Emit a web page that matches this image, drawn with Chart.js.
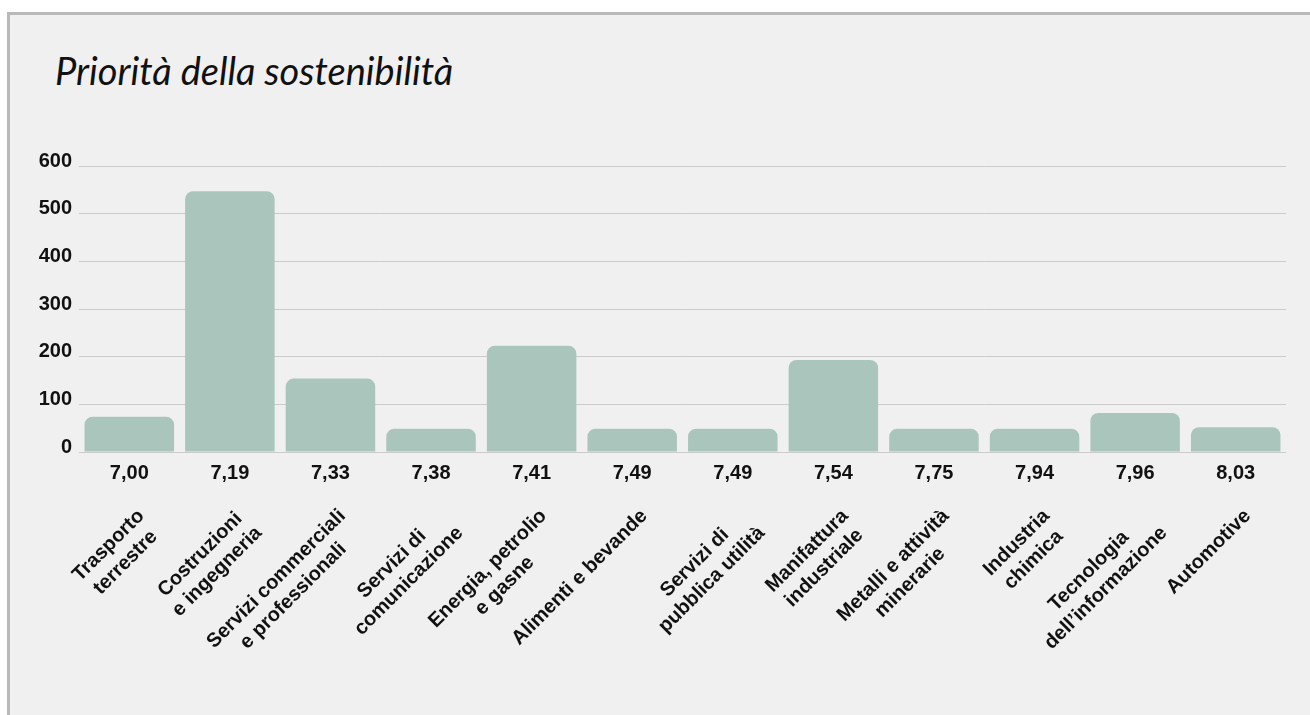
<!DOCTYPE html>
<html>
<head>
<meta charset="utf-8">
<script src="https://cdn.jsdelivr.net/npm/chart.js@4.4.1/dist/chart.umd.min.js"></script>
<style>
  html, body { margin: 0; padding: 0; background: #fff; }
  body { width: 1310px; height: 715px; position: relative; overflow: hidden; }
  #panel {
    position: absolute; left: 7px; top: 12px; width: 1320px; height: 720px;
    background: #f0f0f0; border-left: 3px solid #b9b9b9; border-top: 3px solid #b9b9b9;
  }
  #title {
    position: absolute; left: 55px; top: 51px; margin: 0;
    font-family: Lato, sans-serif; font-style: italic; font-weight: 400;
    font-size: 38px; line-height: 38px; color: #111; white-space: nowrap;
  }
  #wrap { position: absolute; left: 0; top: 0; width: 1310px; height: 715px; }
</style>
</head>
<body>
<div id="panel"></div>
<h1 id="title">Priorità della sostenibilità</h1>
<div id="wrap"><canvas id="chart"></canvas></div>
<script>
  // dati
  const categories = [
    ['Trasporto', 'terrestre'],
    ['Costruzioni', 'e ingegneria'],
    ['Servizi commerciali', 'e professionali'],
    ['Servizi di', 'comunicazione'],
    ['Energia, petrolio', 'e gasne'],
    ['Alimenti e bevande'],
    ['Servizi di', 'pubblica utilità'],
    ['Manifattura', 'industriale'],
    ['Metalli e attività', 'minerarie'],
    ['Industria', 'chimica'],
    ['Tecnologia', 'dell’informazione'],
    ['Automotive']
  ];
  const scores = ['7,00', '7,19', '7,33', '7,38', '7,41', '7,49', '7,49', '7,54', '7,75', '7,94', '7,96', '8,03'];
  const values = [74, 547, 154, 49, 223, 49, 49, 193, 49, 49, 82, 52];
  const yTicks = [0, 100, 200, 300, 400, 500, 600];

  const labelFont = 'bold 20px "Liberation Sans", Arial, sans-serif';

  // etichette delle categorie ruotate, righe centrate, ancorate in alto a destra
  const categoryLabels = {
    id: 'categoryLabels',
    afterDraw(chart) {
      const ctx = chart.ctx;
      const xScale = chart.scales.x;
      ctx.save();
      ctx.font = labelFont;
      ctx.fillStyle = '#111';
      ctx.textBaseline = 'top';
      ctx.textAlign = 'center';
      categories.forEach((lines, i) => {
        const x = xScale.getPixelForValue(i) + 7;
        const y = 508;
        const w = Math.max(...lines.map(l => ctx.measureText(l).width));
        ctx.save();
        ctx.translate(x, y);
        ctx.rotate(-Math.PI / 4);
        lines.forEach((line, j) => {
          ctx.fillText(line, -w / 2, j * 24 - 3);
        });
        ctx.restore();
      });
      ctx.restore();
    }
  };

  new Chart(document.getElementById('chart'), {
    type: 'bar',
    data: {
      labels: scores,
      datasets: [{
        data: values,
        backgroundColor: '#aac6bc',
        borderRadius: { topLeft: 8, topRight: 8 },
        borderSkipped: 'bottom',
        barPercentage: 0.89,
        categoryPercentage: 1
      }]
    },
    options: {
      responsive: true,
      maintainAspectRatio: false,
      animation: false,
      layout: { padding: { left: 20, right: 24, top: 166, bottom: 0 } },
      plugins: {
        legend: { display: false },
        tooltip: { enabled: false },
        title: { display: false }
      },
      scales: {
        x: {
          grid: { display: false, drawTicks: false },
          border: { display: false },
          ticks: {
            color: '#111',
            font: { family: '"Liberation Sans", Arial, sans-serif', size: 20, weight: 'bold' },
            padding: 9,
            maxRotation: 0,
            autoSkip: false
          },
          afterFit(scale) { scale.height = 263; }
        },
        y: {
          min: 0,
          max: 600,
          afterBuildTicks(scale) { scale.ticks = yTicks.map(v => ({ value: v })); },
          grid: { color: '#cbcbcb', lineWidth: 1, drawTicks: false },
          border: { display: false },
          ticks: {
            color: '#111',
            font: { family: '"Liberation Sans", Arial, sans-serif', size: 20, weight: 'bold' },
            padding: 7,
            labelOffset: -5
          },
          afterFit(scale) { scale.width = 59; }
        }
      }
    },
    plugins: [categoryLabels]
  });
</script>
</body>
</html>
